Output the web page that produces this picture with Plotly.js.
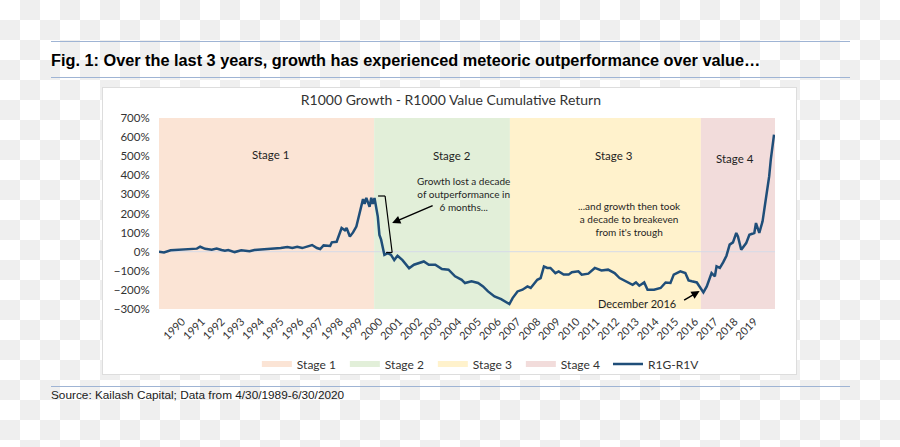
<!DOCTYPE html>
<html><head><meta charset="utf-8">
<script src="https://cdn.plot.ly/plotly-3.0.1.min.js"></script>
<style>
html,body{margin:0;padding:0;}
body{width:900px;height:447px;overflow:hidden;position:relative;
  background:repeating-conic-gradient(#efefef 0 25%, #ffffff 0 50%) 0 0/40px 40px;}
.rule{position:absolute;left:51px;width:799px;height:1px;background:#9fb4d4;}
#hdr{position:absolute;left:51px;top:50px;font:bold 16.3px 'Liberation Sans',Arial,sans-serif;color:#000;line-height:20px;white-space:nowrap;}
#src{position:absolute;left:51px;top:388px;font:11.8px 'Liberation Sans',Arial,sans-serif;color:#1a1a1a;line-height:14px;white-space:nowrap;}
#panel{position:absolute;left:103px;top:88px;width:693px;height:286px;background:#fff;outline:1px solid #dddddd;}
#chart{position:absolute;left:103px;top:88px;width:693px;height:286px;}
</style></head>
<body>
<div class="rule" style="top:41px"></div>
<div id="hdr">Fig. 1: Over the last 3 years, growth has experienced meteoric outperformance over value…</div>
<div class="rule" style="top:77px"></div>
<div id="panel"></div>
<div id="chart"></div>
<div class="rule" style="top:386px"></div>
<div id="src">Source: Kailash Capital; Data from 4/30/1989-6/30/2020</div>
<script>
// ---- data ----
const dates = ['1989-04-30','1989-05','1989-08','1989-12','1990-08','1991-04','1991-06','1991-09','1992-01','1992-04',
 '1992-07','1992-09','1992-11','1993-03','1993-07','1993-12','1994-03','1994-09','1995-01','1995-07',
 '1995-11','1996-02','1996-05','1996-08','1997-02','1997-05','1997-07','1997-09','1998-01','1998-02',
 '1998-05','1998-07','1998-08','1998-10','1998-11','1999-01','1999-03','1999-05','1999-07','1999-09',
 '1999-10','1999-11','2000-01','2000-02','2000-03','2000-04','2000-06','2000-07','2000-08','2000-09',
 '2000-10','2000-12','2001-02','2001-04','2001-06','2001-09','2002-01','2002-04','2002-07','2002-10',
 '2003-01','2003-05','2003-09','2004-01','2004-05','2004-09','2004-11','2005-03','2005-07','2005-10',
 '2006-01','2006-05','2006-09','2007-01','2007-02','2007-04','2007-07','2007-10','2008-01','2008-03',
 '2008-07','2008-09','2008-11','2009-01','2009-03','2009-06','2009-08','2009-11','2010-02','2010-04',
 '2010-08','2010-10','2011-02','2011-06','2011-10','2012-02','2012-06','2012-09','2013-01','2013-05',
 '2013-07','2013-09','2013-12','2014-02','2014-06','2014-10','2015-01','2015-04','2015-06','2015-10',
 '2016-01','2016-03','2016-05','2016-08','2016-12','2017-02','2017-05','2017-07','2017-08','2017-10',
 '2017-12','2018-02','2018-04','2018-06','2018-08','2018-09','2018-11','2019-02','2019-04','2019-07',
 '2019-08','2019-10','2019-12','2020-02','2020-04','2020-05','2020-06-30'];
const r1gR1v = [0,0,-4,7,12,16,26,15,10,17,
 9,5,9,-2,7,2,9,12,16,19,
 25,19,26,19,35,19,14,33,30,49,
 52,98,124,112,124,80,101,132,210,275,
 250,282,235,282,250,281,184,88,63,28,
 -17,-8,-17,-44,-21,-44,-87,-68,-60,-51,
 -68,-68,-91,-94,-129,-147,-164,-155,-164,-182,
 -208,-234,-248,-269,-274,-243,-208,-199,-182,-190,
 -147,-138,-77,-85,-85,-112,-103,-120,-120,-107,
 -103,-120,-115,-85,-98,-94,-112,-138,-155,-173,
 -161,-178,-161,-199,-199,-190,-161,-164,-120,-103,
 -112,-150,-155,-161,-213,-182,-112,-129,-77,-85,
 -56,-21,37,49,98,80,10,45,89,98,
 150,98,159,272,394,482,613];
const stageNames = ['Stage 1','Stage 2','Stage 3','Stage 4'];
const stageStart = ['1989-04-30','2000-03-25','2007-02-10','2016-10-15'];
const stageEnd   = ['2000-03-25','2007-02-10','2016-10-15','2020-07-18'];
const stageColors = ['#fbe4d5','#e2efd9','#fff2cc','#f2dcdb'];
const years = [];
for (let y = 1990; y <= 2019; y++) years.push(y);
const xRange = ['1989-04-30','2020-07-18'];
const yRange = [-300, 700];

// ---- traces ----
const traces = stageNames.map((n,i)=>({
  type:'scatter', mode:'none', name:n, fill:'toself', fillcolor:stageColors[i],
  x:[stageStart[i],stageStart[i],stageEnd[i],stageEnd[i],stageStart[i]],
  y:[yRange[0],yRange[1],yRange[1],yRange[0],yRange[0]], hoverinfo:'skip', legend:'legend'
}));
traces.push({type:'scatter', mode:'lines', x:xRange, y:[0,0], showlegend:false,
  line:{color:'#d5dbe8', width:1}, hoverinfo:'skip'});
traces.push({type:'scatter', mode:'lines', name:'R1G-R1V', x:dates, y:r1gR1v,
  line:{color:'#1f4e79', width:2.5}, legend:'legend2'});

// pixel (page) -> paper helpers for annotations
const L=159, R=772, T=118, B=309;
const px = x => (x-L)/(R-L);
const py = y => (B-y)/(B-T);
const F = 'Lato, "Open Sans", sans-serif';
const txt = (t,x,y,s)=>({text:t,x:px(x),y:py(y),xref:'paper',yref:'paper',showarrow:false,
  font:{family:F,size:s,color:'#1f1f1f'},xanchor:'center',yanchor:'middle',align:'center'});
const annotations = [
  txt('Stage 1',270,154,11.5), txt('Stage 2',451,155,11.5), txt('Stage 3',612,155,11.5), txt('Stage 4',732,158,11.5),
  txt('Growth lost a decade<br>of outperformance in<br>6 months...',462,194,10),
  txt('...and growth then took<br>a decade to breakeven<br>from it\'s trough',627,219,10),
  txt('December 2016',635,303,11),
  {text:'',x:px(391),y:py(223),xref:'paper',yref:'paper',showarrow:true,ax:42,ay:-18,
   arrowhead:2,arrowsize:1.1,arrowwidth:1.5,arrowcolor:'#000',standoff:0},
  {text:'',x:px(697),y:py(291),xref:'paper',yref:'paper',showarrow:true,ax:-17,ay:10,
   arrowhead:2,arrowsize:1.1,arrowwidth:1.5,arrowcolor:'#000',standoff:0}
];
const seg = (x0,y0,x1,y1)=>({type:'line',xref:'paper',yref:'paper',x0:px(x0),y0:py(y0),x1:px(x1),y1:py(y1),
  line:{color:'#000',width:1.2},layer:'above'});
const shapes = [seg(377,196,384,196), seg(384,196,391,252.5), seg(391,252.5,385,252.5)];

const legFont = {family:F,size:12,color:'#333333'};
const layout = {
  width:693, height:286, margin:{l:56,r:21,t:30,b:65},
  paper_bgcolor:'rgba(0,0,0,0)', plot_bgcolor:'rgba(0,0,0,0)',
  title:{text:'R1000 Growth - R1000 Value Cumulative Return', font:{family:F,size:14,color:'#333333'},
    x:0.502, xref:'container', xanchor:'center', y:0.958, yref:'container', yanchor:'middle'},
  xaxis:{type:'date', range:xRange, tickvals:years.map(y=>y+'-07-01'), ticktext:years.map(String),
    tickangle:-45, tickfont:{family:F,size:11,color:'#333333'}, showgrid:false, zeroline:false,
    showline:false, ticks:'', ticklabelstandoff:3},
  yaxis:{range:yRange, tick0:0, dtick:100, ticksuffix:'%', tickfont:{family:F,size:11.5,color:'#333333'},
    showgrid:false, zeroline:false, showline:false, ticks:'outside', ticklen:6, tickcolor:'rgba(0,0,0,0)'},
  legend:{orientation:'h', xref:'container', yref:'container', x:0.222, y:0.035, xanchor:'left', yanchor:'middle',
    font:legFont, entrywidth:43, entrywidthmode:'pixels', itemwidth:30, bgcolor:'rgba(0,0,0,0)'},
  legend2:{orientation:'h', xref:'container', yref:'container', x:0.7287, y:0.035, xanchor:'left', yanchor:'middle',
    font:legFont, itemwidth:30, bgcolor:'rgba(0,0,0,0)'},
  annotations, shapes, showlegend:true
};
Plotly.newPlot('chart', traces, layout, {displayModeBar:false, staticPlot:true});
</script>
</body></html>
